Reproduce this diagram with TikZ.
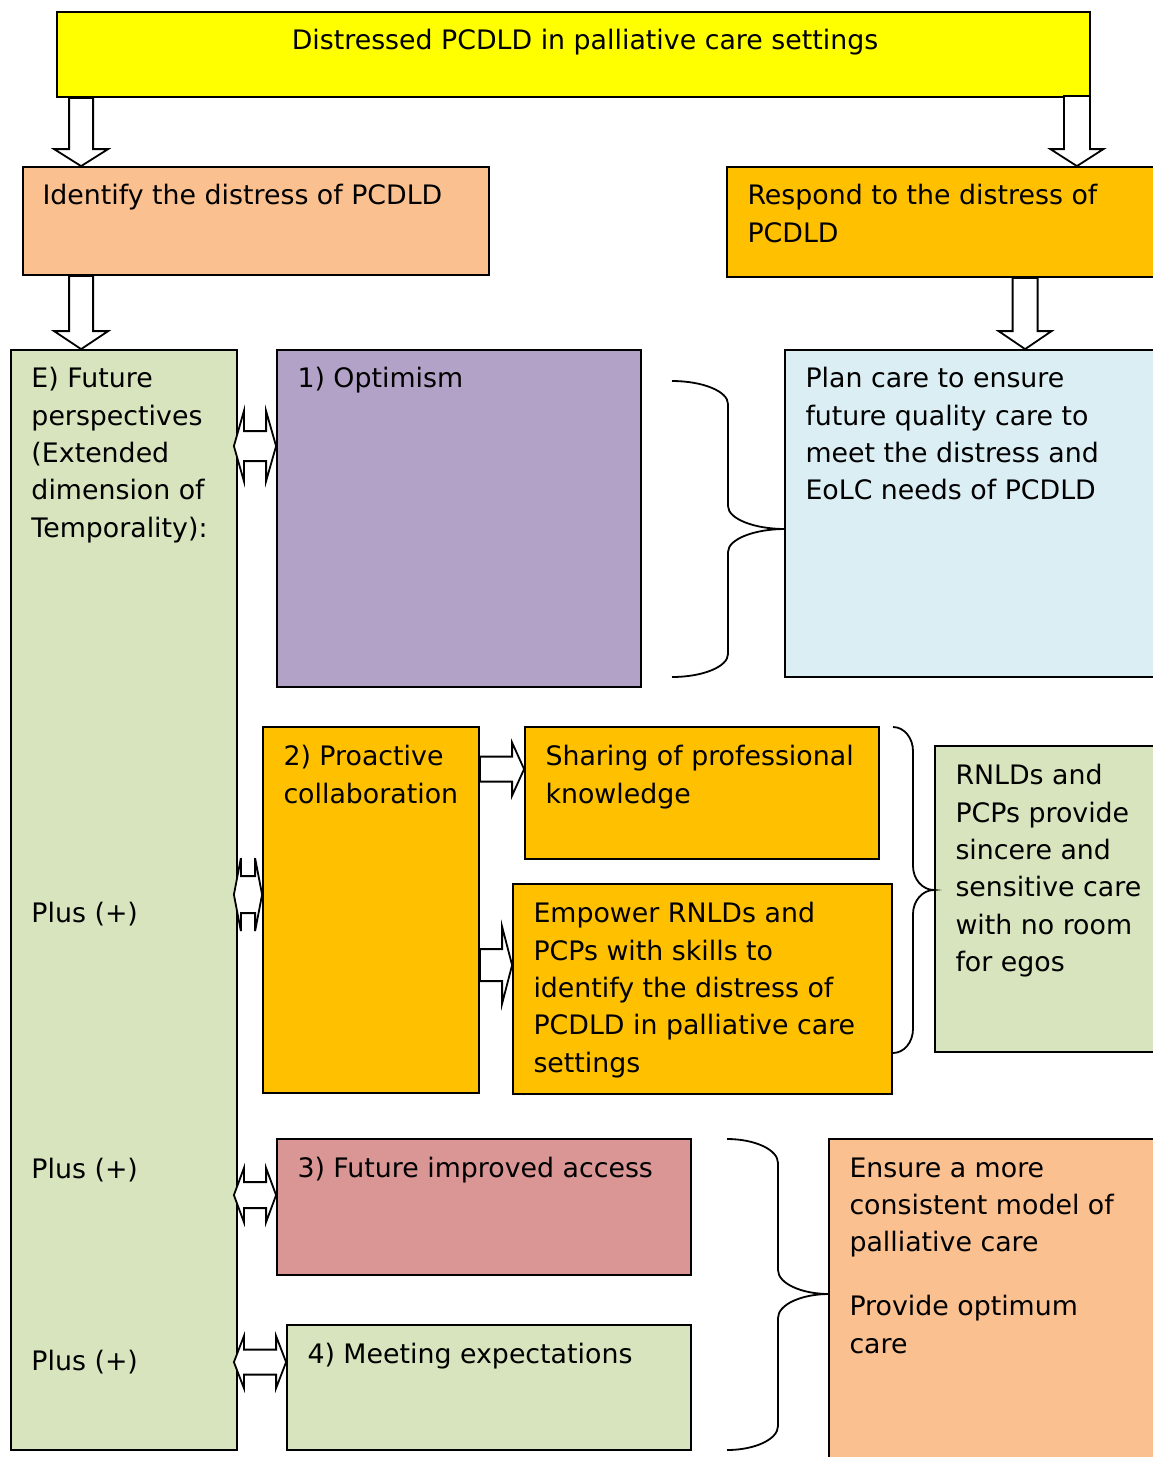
\documentclass[tikz,border=0pt]{standalone}
\usepackage{fontspec}
\setmainfont{DejaVu Sans}
\usetikzlibrary{calc,fit}
\definecolor{brightyellow}{RGB}{255,255,0}
\definecolor{peach}{RGB}{250,192,144}
\definecolor{amber}{RGB}{255,192,0}
\definecolor{sage}{RGB}{215,228,189}
\definecolor{lavender}{RGB}{179,162,199}
\definecolor{paleblue}{RGB}{219,238,244}
\definecolor{dustyrose}{RGB}{217,150,148}
% block arrows: start, end, shaft half width, head half width, head length
\newcommand{\vblk}[5]{\draw[blk] let \p1=(#1), \p2=(#2) in
  (\x1-#3,\y1) -- (\x1-#3,\y2+#5) -- (\x1-#4,\y2+#5) -- (\x1,\y2) -- (\x1+#4,\y2+#5) -- (\x1+#3,\y2+#5) -- (\x1+#3,\y1) -- cycle;}
\newcommand{\hblk}[5]{\draw[blk] let \p1=(#1), \p2=(#2) in
  (\x1,\y1+#3) -- (\x2-#5,\y1+#3) -- (\x2-#5,\y1+#4) -- (\x2,\y1) -- (\x2-#5,\y1-#4) -- (\x2-#5,\y1-#3) -- (\x1,\y1-#3) -- cycle;}
\newcommand{\dblk}[5]{\draw[blk] let \p1=(#1), \p2=(#2) in
  (\x1,\y1) -- (\x1+#5,\y1+#4) -- (\x1+#5,\y1+#3) -- (\x2-#5,\y1+#3) -- (\x2-#5,\y1+#4) -- (\x2,\y1)
  -- (\x2-#5,\y1-#4) -- (\x2-#5,\y1-#3) -- (\x1+#5,\y1-#3) -- (\x1+#5,\y1-#4) -- cycle;}
% curly brace: x left, y top, y bottom, x middle, x tip, y tip, bend
\newcommand{\curly}[7]{\draw[brc] (#1,#2) .. controls ({#1+0.55*(#4-#1)},#2) and (#4,{#2+0.45*#7}) .. (#4,{#2+#7})
  -- (#4,{#6-#7}) .. controls (#4,{#6-0.45*#7}) and ({#4+0.45*(#5-#4)},#6) .. (#5,#6)
  .. controls ({#4+0.45*(#5-#4)},#6) and (#4,{#6+0.45*#7}) .. (#4,{#6+#7})
  -- (#4,{#3-#7}) .. controls (#4,{#3-0.45*#7}) and ({#1+0.55*(#4-#1)},#3) .. (#1,#3);}

\begin{document}
\begin{tikzpicture}[x=0.5pt,y=-0.5pt,
  box/.style={draw, line width=0.9pt, inner sep=0pt},
  txt/.style={inner sep=0pt, anchor=north west, align=left, font=\fontsize{13.4}{18.65}\selectfont, execute at begin node=\strut},
  blk/.style={draw, fill=white, line width=0.9pt, line join=miter},
  brc/.style={draw, line width=0.9pt}
]
\useasboundingbox (0,0) rectangle (1152,1457);
% boxes
\node[box, fill=brightyellow, fit={(57,12) (1090,97)}] (top) {};
\node[box, fill=peach, fit={(23,167) (489,275)}] (idf) {};
\node[box, fill=amber, fit={(727,167) (1162,277)}] (resp) {};
\node[box, fill=sage, fit={(11,350) (237,1450)}] (efut) {};
\node[box, fill=lavender, fit={(277,350) (641,687)}] (opt) {};
\node[box, fill=paleblue, fit={(785,350) (1162,677)}] (plan) {};
\node[box, fill=amber, fit={(263,727) (479,1093)}] (prc) {};
\node[box, fill=amber, fit={(525,727) (879,859)}] (shr) {};
\node[box, fill=amber, fit={(513,884) (892,1094)}] (emp) {};
\node[box, fill=sage, fit={(935,746) (1162,1052)}] (rnl) {};
\node[box, fill=dustyrose, fit={(277,1139) (691,1275)}] (acc) {};
\node[box, fill=sage, fit={(287,1325) (691,1450)}] (mee) {};
\node[box, fill=peach, fit={(829,1139) (1162,1467)}] (ens) {};
% texts
\node[txt, anchor=north] (ttop) at (585,23) {Distressed PCDLD in palliative care settings};
\node[txt] (tidf) at ($(idf.north west)+(20,12)$) {Identify the distress of PCDLD};
\node[txt] (tresp) at ($(resp.north west)+(21,18)$) {Respond to the distress of\\PCDLD};
\node[txt] (tefut) at ($(efut.north west)+(21,18)$) {E) Future\\perspectives\\(Extended\\dimension of\\Temporality):};
\node[txt] (plus1) at ($(efut.north west)+(21,547)$) {Plus (+)};
\node[txt] (plus2) at ($(efut.north west)+(21,803)$) {Plus (+)};
\node[txt] (plus3) at ($(efut.north west)+(21,995)$) {Plus (+)};
\node[txt] (topt) at ($(opt.north west)+(21,12)$) {1) Optimism};
\node[txt] (tplan) at ($(plan.north west)+(21,18)$) {Plan care to ensure\\future quality care to\\meet the distress and\\EoLC needs of PCDLD};
\node[txt] (tprc) at ($(prc.north west)+(21,19)$) {2) Proactive\\collaboration};
\node[txt] (tshr) at ($(shr.north west)+(21,19)$) {Sharing of professional\\knowledge};
\node[txt] (temp) at ($(emp.north west)+(21,19)$) {Empower RNLDs and\\PCPs with skills to\\identify the distress of\\PCDLD in palliative care\\settings};
\node[txt] (trnl) at ($(rnl.north west)+(21,19)$) {RNLDs and\\PCPs provide\\sincere and\\sensitive care\\with no room\\for egos};
\node[txt] (tacc) at ($(acc.north west)+(21,13)$) {3) Future improved access};
\node[txt] (tmee) at ($(mee.north west)+(21,13)$) {4) Meeting expectations};
\node[txt] (tens) at ($(ens.north west)+(21,19)$) {Ensure a more\\consistent model of\\palliative care};
\node[txt] (tpro) at ($(ens.north west)+(21,157)$) {Provide optimum\\care};
% arrow roots
\coordinate (a1) at ($(top.south west)+(25,0)$);
\coordinate (a2) at ($(top.south east)+(-14,-2)$);
\coordinate (a3) at ($(idf.south west)+(59,0)$);
\coordinate (a4) at ($(resp.south west)+(299,0)$);
\coordinate (h1) at ($(prc.north east)+(0,43)$);
\coordinate (h2) at ($(prc.north east)+(0,239)$);
\coordinate (d1) at ($(efut.north east)+(-4,97)$);
\coordinate (d2) at ($(efut.north east)+(-4,545.5)$);
\coordinate (d3) at ($(efut.north east)+(-4,846)$);
\coordinate (d4) at ($(efut.north east)+(-4,1013)$);
% block arrows
\vblk{a1}{a1 |- idf.north}{6pt}{13.5pt}{8.5pt}
\vblk{a2}{a2 |- resp.north}{6.5pt}{13.25pt}{8.5pt}
\vblk{a3}{a3 |- efut.north}{6pt}{13.5pt}{9pt}
\vblk{a4}{a4 |- plan.north}{6.25pt}{13.25pt}{9pt}
\hblk{h1}{h1 -| shr.west}{6.25pt}{13.25pt}{6pt}
\hblk{h2}{h2 -| emp.west}{8pt}{19.25pt}{5pt}
\dblk{d1}{d1 -| opt.west}{7.5pt}{17.5pt}{5pt}
\dblk{d2}{d2 -| prc.west}{9.25pt}{18.25pt}{3.5pt}
\dblk{d3}{d3 -| acc.west}{6.5pt}{13.5pt}{5pt}
\dblk{d4}{d4 -| mee.west}{6.25pt}{13pt}{5pt}
% braces
\curly{672}{381}{677}{728}{785}{529}{23}
\curly{893}{727}{1053}{913}{934}{890}{24}
\curly{727}{1139}{1450}{778}{829}{1294}{24}
\end{tikzpicture}
\end{document}
